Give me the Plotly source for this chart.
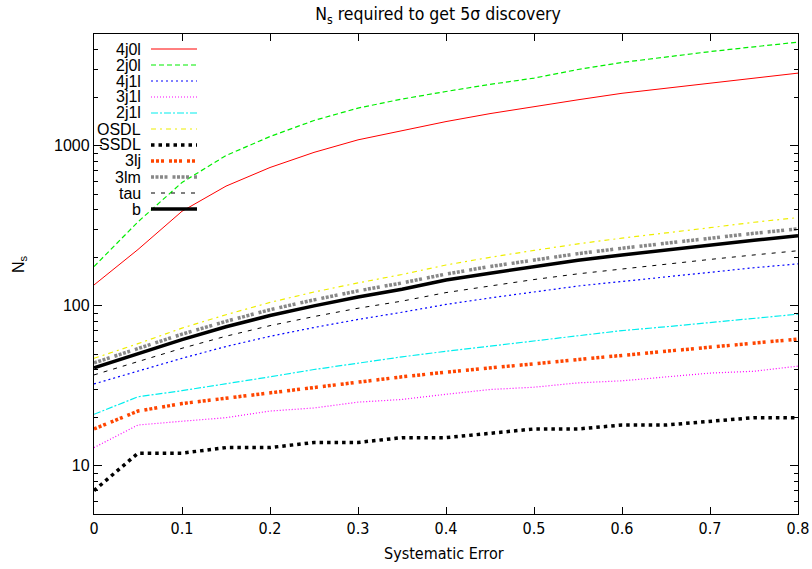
import math
import plotly.graph_objects as go

# ---------------- data ----------------
sys_err = [0.0, 0.05, 0.1, 0.15, 0.2, 0.25, 0.3, 0.35, 0.4, 0.45,
           0.5, 0.55, 0.6, 0.65, 0.7, 0.75, 0.8]

n_4j0l = [135, 225, 390, 560, 732, 910, 1090, 1250, 1418, 1590,
          1762, 1940, 2130, 2290, 2460, 2650, 2847]
n_2j0l = [176, 335, 590, 870, 1143, 1440, 1722, 1960, 2186, 2420,
          2650, 3000, 3320, 3600, 3880, 4160, 4446]
n_4j1l = [32.5, 39, 47, 55.7, 64.5, 73.2, 82.2, 91.2, 102, 112,
          122, 133, 142, 152, 162, 173, 183]
n_3j1l = [13, 18, 19, 20, 22, 23, 25, 26, 28, 30,
          31, 33, 34, 36, 38, 39, 42]
n_2j1l = [21, 27, 29.5, 32.5, 36, 40, 44, 48, 52, 56,
          60, 65, 70, 74, 78.5, 83.5, 88.7]
n_osdl = [47, 58, 72.6, 88, 105, 122, 139, 157, 180, 201,
          222, 244, 265, 287, 308, 333, 356]
n_ssdl = [7, 12, 12, 13, 13, 14, 14, 15, 15, 16,
          17, 17, 18, 18, 19, 20, 20]
n_3lj = [17, 22, 24.5, 26.5, 28.8, 31, 33.5, 36, 38.5, 41,
         43.5, 46, 49, 52, 55, 58.5, 62]
n_3lm = [44, 53.8, 66.5, 80, 94.6, 109, 124, 139, 158, 176,
         193, 212, 229, 247, 264, 284, 303]
n_tau = [37, 44.6, 54.3, 64.6, 75.2, 85.7, 96.6, 107, 121, 133,
         146, 158.5, 170, 183, 195, 208, 221]
n_b = [41, 50, 61.5, 74, 87, 100, 113.5, 127, 145, 160,
       176, 193, 208, 224, 240, 257, 274]

series_names = ["4j0l", "2j0l", "4j1l", "3j1l", "2j1l", "OSDL",
                "SSDL", "3lj", "3lm", "tau", "b"]
series_values = [n_4j0l, n_2j0l, n_4j1l, n_3j1l, n_2j1l, n_osdl,
                 n_ssdl, n_3lj, n_3lm, n_tau, n_b]

x_ticks = [0, 0.1, 0.2, 0.3, 0.4, 0.5, 0.6, 0.7, 0.8]
x_tick_labels = ["0", "0.1", "0.2", "0.3", "0.4", "0.5", "0.6", "0.7", "0.8"]
y_ticks = [10, 100, 1000]
y_tick_labels = ["10", "100", "1000"]
y_minor = [5, 6, 7, 8, 9, 20, 30, 40, 50, 60, 70, 80, 90,
           200, 300, 400, 500, 600, 700, 800, 900, 2000, 3000, 4000, 5000]

# ---------------- styles ----------------
styles = [
    dict(color="#ff0000", width=1, dash="solid"),
    dict(color="#00ee00", width=1.2, dash="5px,3px"),
    dict(color="#0000ff", width=1.2, dash="2px,3px"),
    dict(color="#ff00ff", width=1.2, dash="1px,2px"),
    dict(color="#00eeee", width=1.2, dash="7px,2px,2px,2px"),
    dict(color="#eeee00", width=1.2, dash="5px,4px,2px,4px"),
    dict(color="#000000", width=3.5, dash="3.5px,4px"),
    dict(color="#ff4500", width=3.5, dash="3px,2px,3px,2px,3px,5px"),
    dict(color="#888888", width=3.5, dash="3px,1.5px,3px,1.5px,3px,1.5px,3px,5px"),
    dict(color="#000000", width=1, dash="4px,6px"),
    dict(color="#000000", width=3.5, dash="solid"),
]

W, H = 812, 569
L, R, T, B = 94, 14, 34, 55
PW, PH = W - L - R, H - T - B

def px_to_paper(px, py):
    return (px - L) / PW, (H - B - py) / PH

FONT = "DejaVu Sans Condensed, Liberation Sans, Arial, sans-serif"
FONT2 = "Liberation Sans, Arial, sans-serif"

fig = go.Figure()
for name, vals, st in zip(series_names, series_values, styles):
    fig.add_trace(go.Scatter(x=sys_err, y=vals, mode="lines", name=name,
                             line=st, showlegend=False, hoverinfo="skip"))

# gnuplot-style key (text left, sample right)
shapes = []
annotations = []
for i, (name, st) in enumerate(zip(series_names, styles)):
    py = 49 + 16 * i
    x0, y0 = px_to_paper(151, py)
    x1, _ = px_to_paper(197, py)
    shapes.append(dict(type="line", xref="paper", yref="paper",
                       x0=x0, x1=x1, y0=y0, y1=y0,
                       line=dict(color=st["color"], width=st["width"], dash=st["dash"])))
    xt, _ = px_to_paper(143, py)
    annotations.append(dict(xref="paper", yref="paper", x=xt, y=y0,
                            text=name, showarrow=False, xanchor="right",
                            yanchor="middle",
                            font=dict(family=FONT2, size=16, color="black")))

# axis titles
ax, ay = px_to_paper(444, 553)
annotations.append(dict(xref="paper", yref="paper", x=ax, y=ay, text="Systematic Error",
                        showarrow=False, xanchor="center", yanchor="middle",
                        font=dict(family=FONT, size=16, color="black")))
bx, by = px_to_paper(19, 264)
annotations.append(dict(xref="paper", yref="paper", x=bx, y=by, text="N<sub>s</sub>",
                        showarrow=False, xanchor="center", yanchor="middle", textangle=-90,
                        font=dict(family=FONT2, size=16, color="black")))

fig.update_layout(
    width=W, height=H,
    margin=dict(l=L, r=R, t=T, b=B, autoexpand=False),
    paper_bgcolor="white", plot_bgcolor="white",
    title=dict(text="N<sub>s</sub> required to get 5σ discovery",
               x=438 / W, xanchor="center", y=1 - 14 / H, yanchor="middle",
               font=dict(family=FONT, size=17.5, color="black")),
    shapes=shapes, annotations=annotations,
    showlegend=False, hovermode=False,
)
fig.update_xaxes(
    range=[0, 0.8], tickvals=x_ticks, ticktext=x_tick_labels,
    ticks="inside", ticklen=7, tickcolor="black",
    showline=True, linecolor="black", linewidth=1.2, mirror="allticks",
    showgrid=False, zeroline=False, automargin=False,
    tickfont=dict(family=FONT, size=16, color="black"),
)
fig.update_yaxes(
    type="log", range=[math.log10(5), math.log10(5000)],
    tickvals=y_ticks, ticktext=y_tick_labels,
    ticks="inside", ticklen=8, tickcolor="black",
    minor=dict(tickvals=y_minor, ticks="inside", ticklen=4, tickcolor="black", showgrid=False),
    showline=True, linecolor="black", linewidth=1.2, mirror="allticks",
    showgrid=False, zeroline=False, automargin=False,
    tickfont=dict(family=FONT2, size=16, color="black"),
)

fig.write_html("out.html",
               config={"displayModeBar": False, "staticPlot": True},
               post_script="document.body.style.margin='0px';"
                           "document.body.style.overflow='hidden';")
